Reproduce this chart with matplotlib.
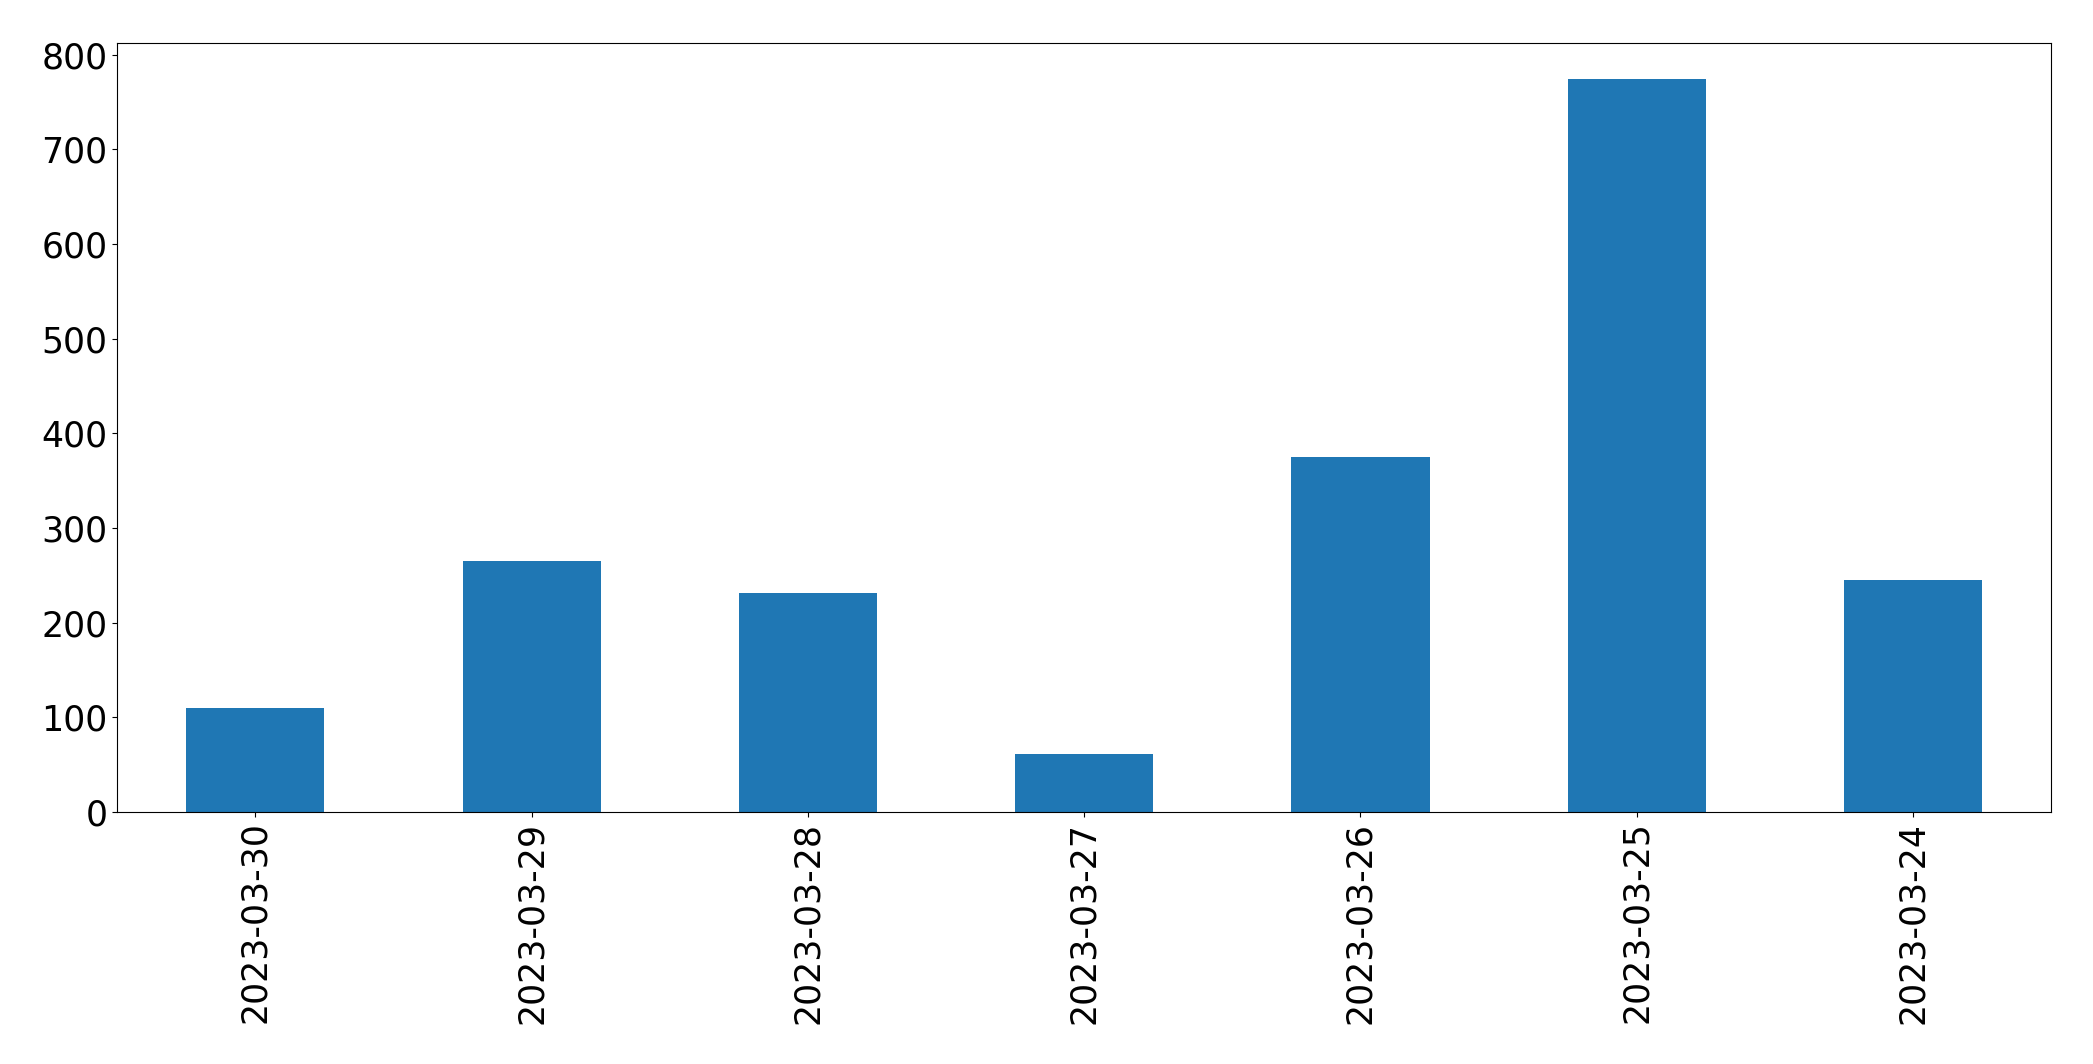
import matplotlib
matplotlib.use('Agg')
import matplotlib.pyplot as plt
import numpy as np

plt.rcParams.update({
    'font.size': 25,
})

dates = ['2023-03-30', '2023-03-29', '2023-03-28', '2023-03-27',
         '2023-03-26', '2023-03-25', '2023-03-24']
counts = [110, 265, 231, 61, 375, 774, 245]

x = np.arange(len(dates))

fig = plt.figure(figsize=(20.93, 10.64), dpi=100)
ax = fig.add_subplot(111)
ax.bar(x, counts, width=0.5, color='#1f77b4')
ax.set_xticks(x)
ax.set_xticklabels(dates, rotation=90)
ax.set_xlim(-0.5, len(dates) - 0.5)
ax.set_ylim(0, max(counts) * 1.05)
fig.subplots_adjust(left=0.056, right=0.98, top=0.96, bottom=0.237)
fig.savefig('out.png', dpi=100)
plt.close()
